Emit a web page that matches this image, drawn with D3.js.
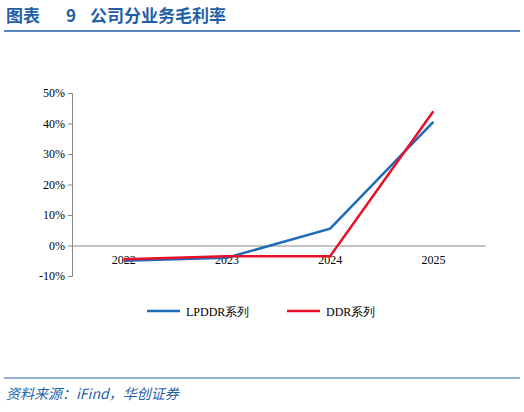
<!DOCTYPE html><html><head><meta charset="utf-8"><script src="https://cdn.jsdelivr.net/npm/d3@7"></script>
<style>body{margin:0;background:#fff}</style></head><body><svg id="c" width="524" height="412"></svg><script>
const categories=["2022","2023","2024","2025"];
const lpddr=[-5,-4,5.5,40.5];
const ddr=[-4.5,-3.5,-3.5,44];
const yTicks=[-10,0,10,20,30,40,50];
const svg=d3.select("#c");
const serif="'Times New Roman','Liberation Serif',serif";
[["图表",6],["9",66],["公司分业务毛利率",90]].forEach(([t,tx])=>
svg.append("text").attr("x",tx).attr("y",22).attr("fill","#1f5fa8").attr("font-size",17).attr("font-weight","bold").attr("font-family","'Noto Sans CJK SC'").text(t));
svg.append("line").attr("x1",4).attr("x2",520).attr("y1",31).attr("y2",31).attr("stroke","#1f5fa8").attr("stroke-width",1.5);
svg.append("line").attr("x1",4).attr("x2",520).attr("y1",378).attr("y2",378).attr("stroke","#1f5fa8").attr("stroke-width",1);
svg.append("text").attr("x",6).attr("y",399).attr("fill","#1f5fa8").attr("font-size",14).attr("font-style","italic").attr("font-family","'Noto Sans CJK SC'").text("资料来源：iFind，华创证券");
const x=d3.scaleBand().domain(categories).range([72,485]);
const y=d3.scaleLinear().domain([-10,50]).range([276,93]);
const ya=svg.append("g").attr("transform","translate(72,0)").call(d3.axisLeft(y).tickValues(yTicks).tickFormat(d=>d+"%").tickSize(4));
ya.selectAll("text").attr("font-family",serif).attr("font-size",12).attr("fill","#000");
ya.select(".domain").attr("stroke","#888");ya.selectAll(".tick line").attr("stroke","#888");
const xa=svg.append("g").attr("transform",`translate(0,${y(0)})`).call(d3.axisBottom(x).tickSize(0));
xa.select(".domain").attr("stroke","#888");
xa.selectAll("text").attr("font-family",serif).attr("font-size",12).attr("fill","#000").attr("dy","1.3em");
const line=d3.line().x((d,i)=>x(categories[i])+x.bandwidth()/2).y(d=>y(d));
svg.append("path").datum(lpddr).attr("d",line).attr("fill","none").attr("stroke","#1f6bb8").attr("stroke-width",2.5);
svg.append("path").datum(ddr).attr("d",line).attr("fill","none").attr("stroke","#e8102a").attr("stroke-width",2.5);
const leg=[["LPDDR系列","#1f6bb8",147],["DDR系列","#e8102a",287]];
leg.forEach(([t,c,lx])=>{svg.append("line").attr("x1",lx).attr("x2",lx+33).attr("y1",311).attr("y2",311).attr("stroke",c).attr("stroke-width",2.5);
svg.append("text").attr("x",lx+39).attr("y",315.5).attr("font-size",12).attr("font-family",serif).text(t);});
</script></body></html>
